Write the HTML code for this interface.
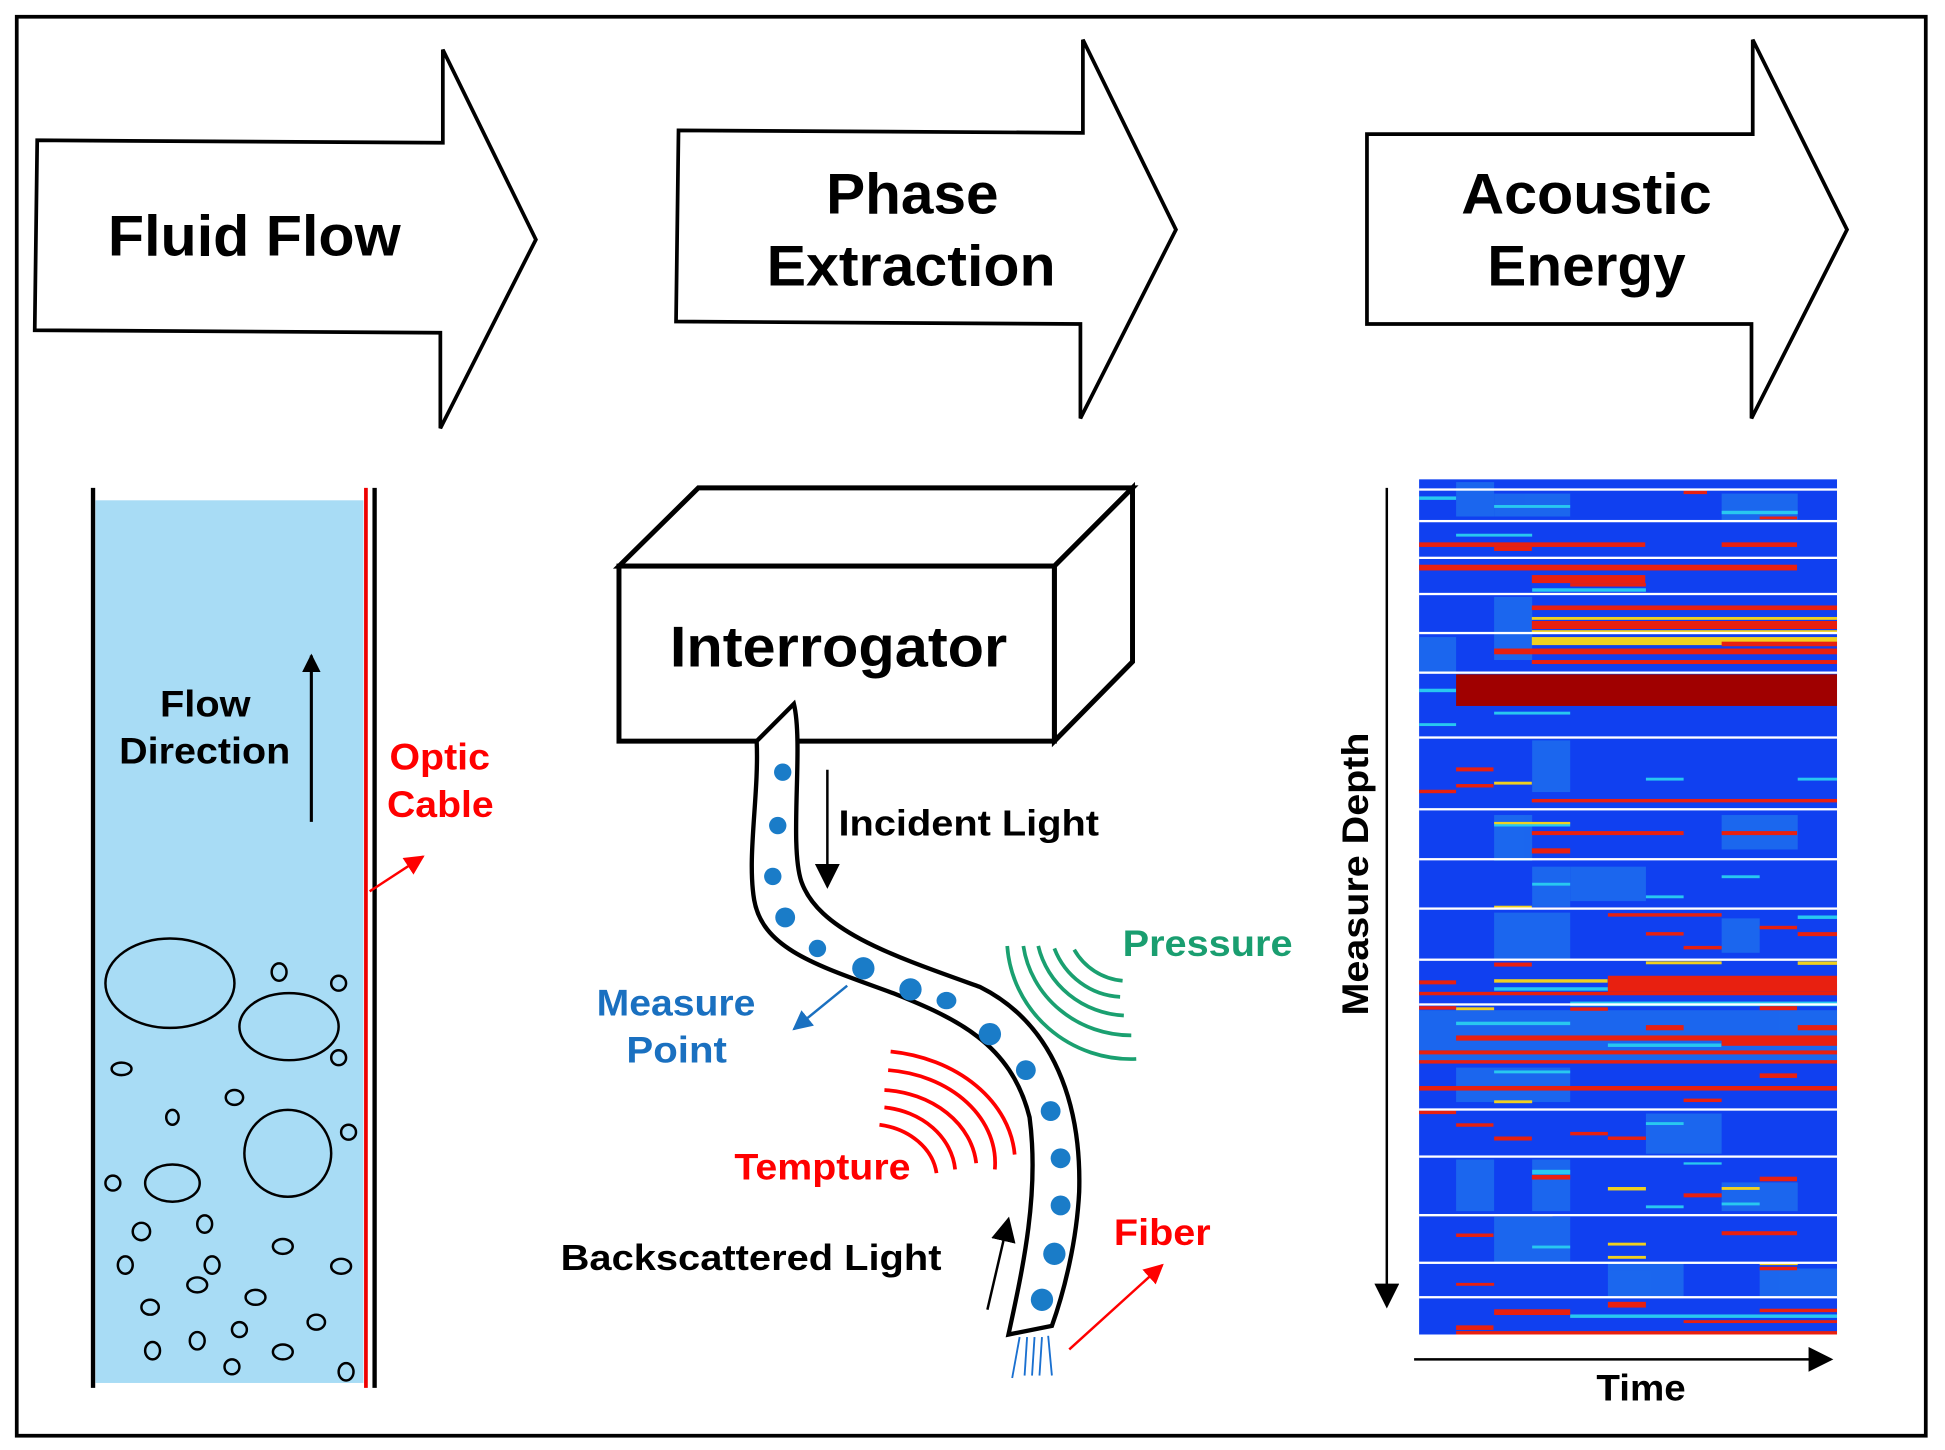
<!DOCTYPE html>
<html><head><meta charset="utf-8"><style>
html,body{margin:0;padding:0;background:#fff;width:1945px;height:1450px;overflow:hidden}
svg{display:block}
text{font-family:"Liberation Sans",Arial,sans-serif;font-weight:bold}
</style></head><body>
<svg width="1945" height="1450" viewBox="0 0 1568 1168" preserveAspectRatio="none" xmlns="http://www.w3.org/2000/svg">
<defs>
<marker id="ab" viewBox="0 0 10 10" refX="9" refY="5" markerWidth="6" markerHeight="6" orient="auto"><path d="M0,0 L10,5 L0,10 z" fill="#000"/></marker>
<marker id="ab2" viewBox="0 0 10 10" refX="9" refY="5" markerWidth="10" markerHeight="10" orient="auto"><path d="M0,0 L10,5 L0,10 z" fill="#000"/></marker>
<marker id="ar" viewBox="0 0 10 10" refX="9" refY="5" markerWidth="8" markerHeight="8" orient="auto"><path d="M0,0 L10,5 L0,10 z" fill="#f00"/></marker>
<marker id="abl" viewBox="0 0 10 10" refX="9" refY="5" markerWidth="8" markerHeight="8" orient="auto"><path d="M0,0 L10,5 L0,10 z" fill="#1a70c0"/></marker>
</defs>
<rect x="0" y="0" width="1568" height="1168" fill="#fff"/>
<rect x="13.5" y="13.5" width="1539" height="1143" fill="none" stroke="#000" stroke-width="3"/>

<polygon points="30,113 357,115 357,40 432,193 355,345 355,268 28,266" fill="#fff" stroke="#000" stroke-width="3"/>
<text x="87" y="206" font-size="46" textLength="236" lengthAdjust="spacingAndGlyphs">Fluid Flow</text>
<polygon points="547,105 873,107 873,32 948,185 871,337 871,261 545,259" fill="#fff" stroke="#000" stroke-width="3"/>
<text x="666" y="172" font-size="46" textLength="139" lengthAdjust="spacingAndGlyphs">Phase</text>
<text x="618" y="230" font-size="46" textLength="233" lengthAdjust="spacingAndGlyphs">Extraction</text>
<polygon points="1102,108 1413,108 1413,32 1489,185 1412,337 1412,261 1102,261" fill="#fff" stroke="#000" stroke-width="3"/>
<text x="1178" y="172" font-size="46" textLength="202" lengthAdjust="spacingAndGlyphs">Acoustic</text>
<text x="1199" y="230" font-size="46" textLength="160" lengthAdjust="spacingAndGlyphs">Energy</text>

<rect x="77" y="403" width="216" height="711" fill="#a8dcf5"/>
<line x1="75" y1="393" x2="75" y2="1118" stroke="#000" stroke-width="3.5"/>
<line x1="295" y1="393" x2="295" y2="1118" stroke="#e00" stroke-width="3"/>
<line x1="302" y1="393" x2="302" y2="1118" stroke="#000" stroke-width="3.5"/>
<line x1="251" y1="662" x2="251" y2="528" stroke="#000" stroke-width="2.5" marker-end="url(#ab)"/>
<text x="129" y="577" font-size="30" textLength="73" lengthAdjust="spacingAndGlyphs">Flow</text>
<text x="96" y="615" font-size="30" textLength="138" lengthAdjust="spacingAndGlyphs">Direction</text>
<text x="314" y="620" font-size="30" fill="#f00" textLength="81" lengthAdjust="spacingAndGlyphs">Optic</text>
<text x="312" y="658" font-size="30" fill="#f00" textLength="86" lengthAdjust="spacingAndGlyphs">Cable</text>
<line x1="298" y1="718" x2="341" y2="690" stroke="#f00" stroke-width="2" marker-end="url(#ar)"/>
<g fill="none" stroke="#000" stroke-width="2">
<ellipse cx="137" cy="792" rx="52" ry="36"/>
<ellipse cx="233" cy="827" rx="40" ry="27"/>
<ellipse cx="232" cy="929" rx="35" ry="35"/>
<ellipse cx="139" cy="953" rx="22" ry="15"/>
<ellipse cx="225" cy="783" rx="6" ry="7"/><ellipse cx="273" cy="792" rx="6" ry="6"/><ellipse cx="273" cy="852" rx="6" ry="6"/>
<ellipse cx="98" cy="861" rx="8" ry="5"/><ellipse cx="189" cy="884" rx="7" ry="6"/><ellipse cx="139" cy="900" rx="5" ry="6"/>
<ellipse cx="281" cy="912" rx="6" ry="6"/><ellipse cx="91" cy="953" rx="6" ry="6"/><ellipse cx="114" cy="992" rx="7" ry="7"/>
<ellipse cx="165" cy="986" rx="6" ry="7"/><ellipse cx="101" cy="1019" rx="6" ry="7"/><ellipse cx="171" cy="1019" rx="6" ry="7"/>
<ellipse cx="159" cy="1035" rx="8" ry="6"/><ellipse cx="228" cy="1004" rx="8" ry="6"/><ellipse cx="275" cy="1020" rx="8" ry="6"/>
<ellipse cx="121" cy="1053" rx="7" ry="6"/><ellipse cx="206" cy="1045" rx="8" ry="6"/><ellipse cx="159" cy="1080" rx="6" ry="7"/>
<ellipse cx="193" cy="1071" rx="6" ry="6"/><ellipse cx="123" cy="1088" rx="6" ry="7"/><ellipse cx="228" cy="1089" rx="8" ry="6"/>
<ellipse cx="255" cy="1065" rx="7" ry="6"/><ellipse cx="187" cy="1101" rx="6" ry="6"/><ellipse cx="279" cy="1105" rx="6" ry="7"/>
</g>

<g fill="#fff" stroke="#000" stroke-width="4" stroke-linejoin="miter">
<polygon points="499,456 563,393 913,393 850,456"/>
<polygon points="850,456 913,393 913,533 850,597"/>
<rect x="499" y="456" width="351" height="141"/>
</g>
<text x="540" y="537" font-size="46" textLength="272" lengthAdjust="spacingAndGlyphs">Interrogator</text>

<path d="M610,597 L640,567 C648,600 636,680 646,710 C660,750 720,770 790,795 C850,825 872,890 870,960 C868,1000 858,1040 848,1068 L813,1075 C825,1020 838,960 830,900 C815,840 770,820 720,800 C660,778 615,765 608,725 C602,690 612,640 610,597 Z" fill="#fff" stroke="#000" stroke-width="3.5"/>
<g fill="#1a7cc8">
<ellipse cx="631" cy="622" rx="7" ry="7"/><ellipse cx="627" cy="665" rx="7" ry="7"/><ellipse cx="623" cy="706" rx="7" ry="7"/>
<ellipse cx="633" cy="739" rx="8" ry="8"/><ellipse cx="659" cy="764" rx="7" ry="7"/><ellipse cx="696" cy="780" rx="9" ry="9"/>
<ellipse cx="734" cy="797" rx="9" ry="9"/><ellipse cx="763" cy="806" rx="8" ry="7"/><ellipse cx="798" cy="833" rx="9" ry="9"/>
<ellipse cx="827" cy="862" rx="8" ry="8"/><ellipse cx="847" cy="895" rx="8" ry="8"/><ellipse cx="855" cy="933" rx="8" ry="8"/>
<ellipse cx="855" cy="971" rx="8" ry="8"/><ellipse cx="850" cy="1010" rx="9" ry="9"/><ellipse cx="840" cy="1047" rx="9" ry="9"/>
</g>
<g stroke="#1a70d0" stroke-width="1.5" fill="none">
<path d="M822,1077 L816,1110"/><path d="M828,1077 L826,1108"/><path d="M834,1077 L832,1108"/><path d="M840,1077 L838,1108"/><path d="M845,1076 L848,1108"/>
</g>
<line x1="667" y1="620" x2="667" y2="714" stroke="#000" stroke-width="2" marker-end="url(#ab2)"/>
<text x="676" y="673" font-size="29" textLength="210" lengthAdjust="spacingAndGlyphs">Incident Light</text>
<line x1="796" y1="1055" x2="813" y2="982" stroke="#000" stroke-width="2" marker-end="url(#ab2)"/>
<text x="452" y="1023" font-size="29" textLength="307" lengthAdjust="spacingAndGlyphs">Backscattered Light</text>
<text x="481" y="818" font-size="30" fill="#1a70c0" textLength="128" lengthAdjust="spacingAndGlyphs">Measure</text>
<text x="505" y="856" font-size="30" fill="#1a70c0" textLength="81" lengthAdjust="spacingAndGlyphs">Point</text>
<line x1="683" y1="794" x2="640" y2="829" stroke="#1a70c0" stroke-width="2" marker-end="url(#abl)"/>
<text x="905" y="770" font-size="30" fill="#1a9e70" textLength="137" lengthAdjust="spacingAndGlyphs">Pressure</text>
<g fill="none" stroke="#1aa070" stroke-width="3">
<path d="M866,765 A50,50 0 0 0 905,790"/>
<path d="M850,764 A60,62 0 0 0 903,803"/>
<path d="M837,762 A75,72 0 0 0 906,818"/>
<path d="M825,762 A88,84 0 0 0 912,834"/>
<path d="M812,762 A100,98 0 0 0 916,853"/>
</g>
<text x="592" y="950" font-size="30" fill="#f00" textLength="142" lengthAdjust="spacingAndGlyphs">Tempture</text>
<g fill="none" stroke="#f00" stroke-width="3">
<path d="M709,906 A55,45 0 0 1 755,945"/>
<path d="M713,892 A65,55 0 0 1 770,942"/>
<path d="M713,878 A80,65 0 0 1 787,937"/>
<path d="M716,862 A95,75 0 0 1 802,942"/>
<path d="M718,847 A115,90 0 0 1 818,930"/>
</g>
<text x="898" y="1003" font-size="30" fill="#f00" textLength="78" lengthAdjust="spacingAndGlyphs">Fiber</text>
<line x1="862" y1="1087" x2="937" y2="1019" stroke="#f00" stroke-width="2" marker-end="url(#ar)"/>

<line x1="1118" y1="393" x2="1118" y2="1052" stroke="#000" stroke-width="2" marker-end="url(#ab2)"/>
<line x1="1140" y1="1095" x2="1476" y2="1095" stroke="#000" stroke-width="2" marker-end="url(#ab2)"/>
<text x="1287" y="1128" font-size="30" textLength="72" lengthAdjust="spacingAndGlyphs">Time</text>
<text transform="translate(1103,818) rotate(-90)" x="0" y="0" font-size="30" textLength="228" lengthAdjust="spacingAndGlyphs">Measure Depth</text>

<svg x="1144" y="386" width="337" height="689" viewBox="117 15 1253 1490" preserveAspectRatio="none">
<rect x="117" y="15" width="1253" height="1490" fill="#1040f0"/>
<g fill="#1e70ee" opacity="0.8">
<rect x="228" y="20" width="114" height="60"/><rect x="342" y="40" width="228" height="40"/><rect x="1024" y="40" width="228" height="50"/>
<rect x="342" y="220" width="114" height="110"/><rect x="117" y="290" width="111" height="60"/>
<rect x="456" y="470" width="114" height="90"/><rect x="342" y="600" width="114" height="80"/><rect x="1024" y="600" width="228" height="60"/>
<rect x="456" y="690" width="114" height="70"/><rect x="342" y="770" width="228" height="80"/><rect x="1024" y="780" width="114" height="60"/>
<rect x="117" y="940" width="1253" height="90"/><rect x="228" y="1040" width="342" height="60"/><rect x="797" y="1120" width="227" height="70"/>
<rect x="456" y="1200" width="114" height="90"/><rect x="1024" y="1240" width="228" height="50"/><rect x="342" y="1300" width="228" height="80"/><rect x="1138" y="1390" width="232" height="50"/>
<rect x="228" y="1200" width="114" height="90"/><rect x="683" y="1380" width="227" height="58"/><rect x="570" y="690" width="227" height="60"/>
</g>
<g fill="#28c8f0">
<rect x="117" y="45" width="111" height="6"/><rect x="342" y="60" width="228" height="5"/><rect x="1024" y="70" width="228" height="6"/>
<rect x="228" y="110" width="228" height="5"/><rect x="456" y="205" width="341" height="6"/><rect x="117" y="380" width="111" height="6"/>
<rect x="117" y="440" width="111" height="5"/><rect x="342" y="420" width="228" height="5"/><rect x="797" y="535" width="113" height="5"/>
<rect x="1252" y="535" width="118" height="5"/><rect x="342" y="615" width="228" height="5"/><rect x="456" y="718" width="114" height="5"/>
<rect x="797" y="740" width="113" height="5"/><rect x="1024" y="705" width="114" height="5"/><rect x="1252" y="775" width="118" height="6"/>
<rect x="342" y="900" width="800" height="6"/><rect x="570" y="925" width="800" height="8"/><rect x="228" y="960" width="342" height="6"/>
<rect x="683" y="998" width="340" height="6"/><rect x="797" y="1135" width="113" height="5"/><rect x="342" y="1045" width="228" height="5"/>
<rect x="456" y="1218" width="114" height="8"/><rect x="797" y="1280" width="113" height="5"/><rect x="1024" y="1275" width="114" height="5"/>
<rect x="456" y="1350" width="114" height="5"/><rect x="910" y="1205" width="114" height="4"/><rect x="570" y="1470" width="800" height="6"/>
</g>
<g fill="#f0d020">
<rect x="455" y="255" width="915" height="5"/><rect x="455" y="278" width="915" height="5"/><rect x="455" y="290" width="915" height="14"/>
<rect x="342" y="758" width="113" height="6"/><rect x="342" y="886" width="340" height="6"/><rect x="228" y="935" width="114" height="5"/>
<rect x="1252" y="855" width="118" height="6"/><rect x="797" y="855" width="227" height="5"/><rect x="342" y="1097" width="114" height="5"/>
<rect x="683" y="1248" width="114" height="6"/><rect x="1024" y="1248" width="114" height="5"/><rect x="683" y="1345" width="114" height="5"/>
<rect x="683" y="1368" width="114" height="5"/><rect x="117" y="1295" width="400" height="4"/><rect x="1138" y="1380" width="114" height="4"/>
<rect x="342" y="542" width="113" height="5"/><rect x="342" y="612" width="228" height="4"/>
</g>
<g fill="#e82010">
<rect x="117" y="125" width="678" height="8"/><rect x="1024" y="125" width="226" height="8"/>
<rect x="117" y="164" width="1133" height="10"/><rect x="455" y="182" width="340" height="14"/>
<rect x="455" y="235" width="915" height="8"/><rect x="455" y="262" width="915" height="14"/><rect x="1024" y="298" width="346" height="8"/>
<rect x="342" y="310" width="1028" height="10"/><rect x="455" y="330" width="915" height="7"/>
<rect x="228" y="517" width="112" height="7"/><rect x="117" y="556" width="111" height="6"/><rect x="228" y="546" width="112" height="6"/>
<rect x="455" y="572" width="915" height="6"/><rect x="455" y="628" width="455" height="7"/><rect x="1024" y="628" width="226" height="7"/>
<rect x="455" y="658" width="115" height="9"/><rect x="683" y="771" width="341" height="6"/><rect x="797" y="804" width="113" height="6"/>
<rect x="910" y="828" width="114" height="6"/><rect x="1138" y="793" width="112" height="6"/><rect x="1252" y="804" width="118" height="7"/>
<rect x="342" y="857" width="113" height="7"/><rect x="683" y="880" width="687" height="28"/><rect x="117" y="908" width="1253" height="6"/>
<rect x="117" y="888" width="111" height="7"/><rect x="117" y="933" width="111" height="6"/><rect x="570" y="935" width="113" height="6"/>
<rect x="1138" y="933" width="112" height="7"/><rect x="797" y="966" width="113" height="9"/><rect x="1252" y="966" width="118" height="9"/>
<rect x="228" y="984" width="1142" height="9"/><rect x="117" y="1010" width="1253" height="7"/><rect x="117" y="1027" width="1253" height="6"/>
<rect x="117" y="1072" width="1253" height="8"/><rect x="1138" y="1050" width="112" height="8"/><rect x="117" y="1115" width="111" height="6"/>
<rect x="910" y="1094" width="114" height="6"/><rect x="228" y="1137" width="112" height="6"/><rect x="342" y="1160" width="113" height="7"/>
<rect x="570" y="1152" width="113" height="6"/><rect x="683" y="1160" width="114" height="6"/><rect x="455" y="1227" width="115" height="8"/>
<rect x="1138" y="1230" width="112" height="8"/><rect x="910" y="1259" width="114" height="7"/><rect x="228" y="1329" width="112" height="6"/>
<rect x="1024" y="1325" width="226" height="7"/><rect x="1138" y="1387" width="112" height="6"/><rect x="683" y="1448" width="114" height="10"/>
<rect x="342" y="1461" width="228" height="10"/><rect x="228" y="1489" width="112" height="8"/><rect x="228" y="1499" width="1142" height="6"/>
<rect x="1138" y="1460" width="232" height="6"/><rect x="910" y="35" width="70" height="6"/><rect x="1138" y="80" width="112" height="5"/>
<rect x="342" y="133" width="113" height="7"/><rect x="570" y="196" width="227" height="6"/><rect x="683" y="895" width="687" height="10"/>
<rect x="1024" y="990" width="346" height="12"/><rect x="228" y="1415" width="114" height="5"/><rect x="910" y="1480" width="460" height="5"/>
</g>
<rect x="228" y="355" width="1142" height="55" fill="#a00000"/>
<g fill="#fff">
<rect x="117" y="31" width="1253" height="4"/><rect x="117" y="86" width="1253" height="4"/><rect x="117" y="150" width="1253" height="4"/>
<rect x="117" y="213" width="1253" height="4"/><rect x="117" y="281" width="1253" height="4"/><rect x="117" y="350" width="1253" height="4"/>
<rect x="117" y="463" width="1253" height="4"/><rect x="117" y="588" width="1253" height="4"/><rect x="117" y="675" width="1253" height="4"/>
<rect x="117" y="761" width="1253" height="4"/><rect x="117" y="850" width="1253" height="4"/><rect x="117" y="928" width="1253" height="4"/>
<rect x="117" y="1111" width="1253" height="4"/><rect x="117" y="1193" width="1253" height="4"/><rect x="117" y="1295" width="1253" height="4"/>
<rect x="117" y="1378" width="1253" height="4"/><rect x="117" y="1438" width="1253" height="4"/>
</g>
</svg>
</svg>
</body></html>
